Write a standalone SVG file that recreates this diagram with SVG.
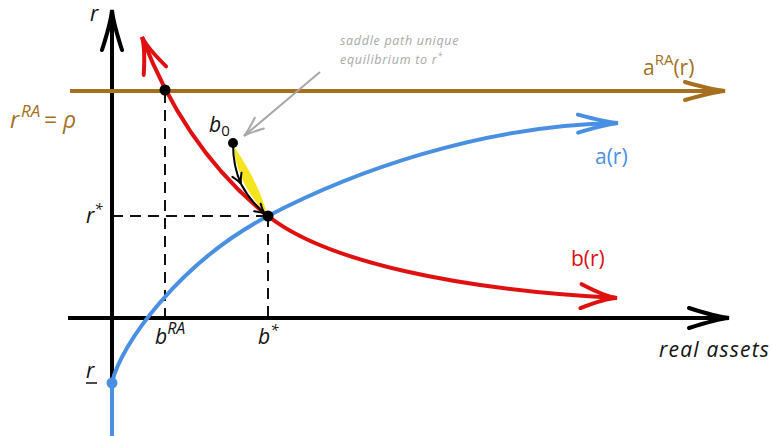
<svg xmlns="http://www.w3.org/2000/svg" width="772" height="436" viewBox="0 0 772 436">
<style>
text{font-family:"Open Sans","DejaVu Sans",sans-serif;}
.m{font-style:italic;fill:#111;font-size:21px;}
.dash{stroke:#111;stroke-width:2;stroke-dasharray:11,7;fill:none;}
.dot{fill:#000;}
</style>
<defs>
<marker id="ak" markerUnits="userSpaceOnUse" viewBox="-44 -12 48 24" refX="0" refY="0" markerWidth="48" markerHeight="24" orient="auto-start-reverse"><path d="M-40,-10 Q-12,-1 0,0 Q-12,1 -40,10" fill="none" stroke="#000" stroke-width="4" stroke-linecap="round"/></marker>
<marker id="abr" markerUnits="userSpaceOnUse" viewBox="-44 -12 48 24" refX="0" refY="0" markerWidth="48" markerHeight="24" orient="auto-start-reverse"><path d="M-40,-9 Q-12,-1 0,0 Q-12,1 -40,9" fill="none" stroke="#A56F1E" stroke-width="4" stroke-linecap="round"/></marker>
<marker id="abl" markerUnits="userSpaceOnUse" viewBox="-44 -12 48 24" refX="0" refY="0" markerWidth="48" markerHeight="24" orient="auto-start-reverse"><path d="M-40,-9 Q-12,-1 0,0 Q-12,1 -40,9" fill="none" stroke="#4A90E2" stroke-width="4" stroke-linecap="round"/></marker>
<marker id="ard" markerUnits="userSpaceOnUse" viewBox="-44 -14 48 28" refX="0" refY="0" markerWidth="48" markerHeight="28" orient="auto-start-reverse"><path d="M-36,-12 Q-12,-1 0,0 Q-12,1 -36,12" fill="none" stroke="#E01010" stroke-width="4" stroke-linecap="round"/></marker>
<marker id="agr" markerUnits="userSpaceOnUse" viewBox="-24 -10 28 20" refX="0" refY="0" markerWidth="28" markerHeight="20" orient="auto"><path d="M-20,-7 Q-6,-1 0,0 Q-6,1 -20,7" fill="none" stroke="#A8A8A8" stroke-width="2" stroke-linecap="round"/></marker>
<marker id="asm" markerUnits="userSpaceOnUse" viewBox="-14 -7 16 14" refX="0" refY="0" markerWidth="16" markerHeight="14" orient="auto"><path d="M-10,-5 Q-4,-1 0,0 Q-4,1 -10,5" fill="none" stroke="#000" stroke-width="2" stroke-linecap="round"/></marker>
</defs>

<g id="connectors">
  <path class="dash" d="M165,92 V318"/>
  <path class="dash" d="M112,216 H268"/>
  <path class="dash" d="M268,216 V318"/>
  <path d="M68,318 H729" stroke="#000" stroke-width="4" fill="none" marker-end="url(#ak)"/>
  <path d="M112,383 V10" stroke="#000" stroke-width="4" fill="none" marker-end="url(#ak)"/>
  <path d="M70,91 H725" stroke="#A56F1E" stroke-width="4" fill="none" marker-end="url(#abr)"/>
  <path d="M112,436 V383" stroke="#4A90E2" stroke-width="4" fill="none"/>
  <path d="M112,383 C120,345 180,262 268,216 C350,173 480,125 618,123" stroke="#4A90E2" stroke-width="4" fill="none" marker-end="url(#abl)"/>
  <path d="M142,37 C170,110 210,170 268,216 C326,262 460,290 617,298" stroke="#E01010" stroke-width="4" fill="none" marker-start="url(#ard)" marker-end="url(#ard)"/>
  <path d="M233,145 Q258,181 267,214 Q238,186 233,145 Z" fill="#F5E51E"/>
  <path d="M233,144 Q233,166 241,184" stroke="#000" stroke-width="2" fill="none" marker-end="url(#asm)"/>
  <path d="M241,184 Q250,201 265,214" stroke="#000" stroke-width="2" fill="none" marker-end="url(#asm)"/>
  <path d="M320,72 L244,136" stroke="#A8A8A8" stroke-width="2" fill="none" marker-end="url(#agr)"/>
</g>

<g id="dot-ra"><circle class="dot" cx="165" cy="90" r="5.5"/></g>
<g id="dot-eq"><circle class="dot" cx="268" cy="216" r="5.5"/></g>
<g id="dot-b0"><circle class="dot" cx="233" cy="143" r="5"/><text class="m" x="209" y="132">b<tspan font-size="15" dy="4" font-style="normal">0</tspan></text></g>
<g id="dot-rmin"><circle cx="112" cy="383" r="5.5" fill="#4A90E2"/><text class="m" x="86" y="378">r</text><path d="M86,383 H97" stroke="#111" stroke-width="1.5"/></g>

<g id="labels">
  <text class="m" x="90" y="21">r</text>
  <text class="m" x="86" y="223">r<tspan font-size="15" dy="-9">*</tspan></text>
  <text class="m" x="155" y="344">b<tspan font-size="16" dy="-10">RA</tspan></text>
  <text class="m" x="258" y="344">b<tspan font-size="15" dy="-9">*</tspan></text>
  <text class="m" x="659" y="357" letter-spacing="1.2" font-size="19">real assets</text>
  <text x="10" y="128" font-size="23" fill="#A56F1E"><tspan font-style="italic">r</tspan><tspan x="21" font-size="17" dy="-11" font-style="italic">RA</tspan><tspan x="44" dy="11">=</tspan><tspan x="63" font-style="italic">ρ</tspan></text>
  <text x="643" y="75" font-size="21" fill="#A56F1E">a<tspan font-size="15" dy="-10">RA</tspan><tspan dy="10">(r)</tspan></text>
  <text x="595" y="164" font-size="21" fill="#4A90E2">a(r)</text>
  <text x="571" y="266" font-size="21" fill="#E01010">b(r)</text>
  <text x="340" y="45" font-size="12.5" font-style="italic" fill="#A8A8A8" letter-spacing="0.7">saddle path unique</text>
  <text x="340" y="64" font-size="12.5" font-style="italic" fill="#A8A8A8" letter-spacing="0.7">equilibrium to r<tspan font-size="9" dy="-5">*</tspan></text>
</g>
</svg>
